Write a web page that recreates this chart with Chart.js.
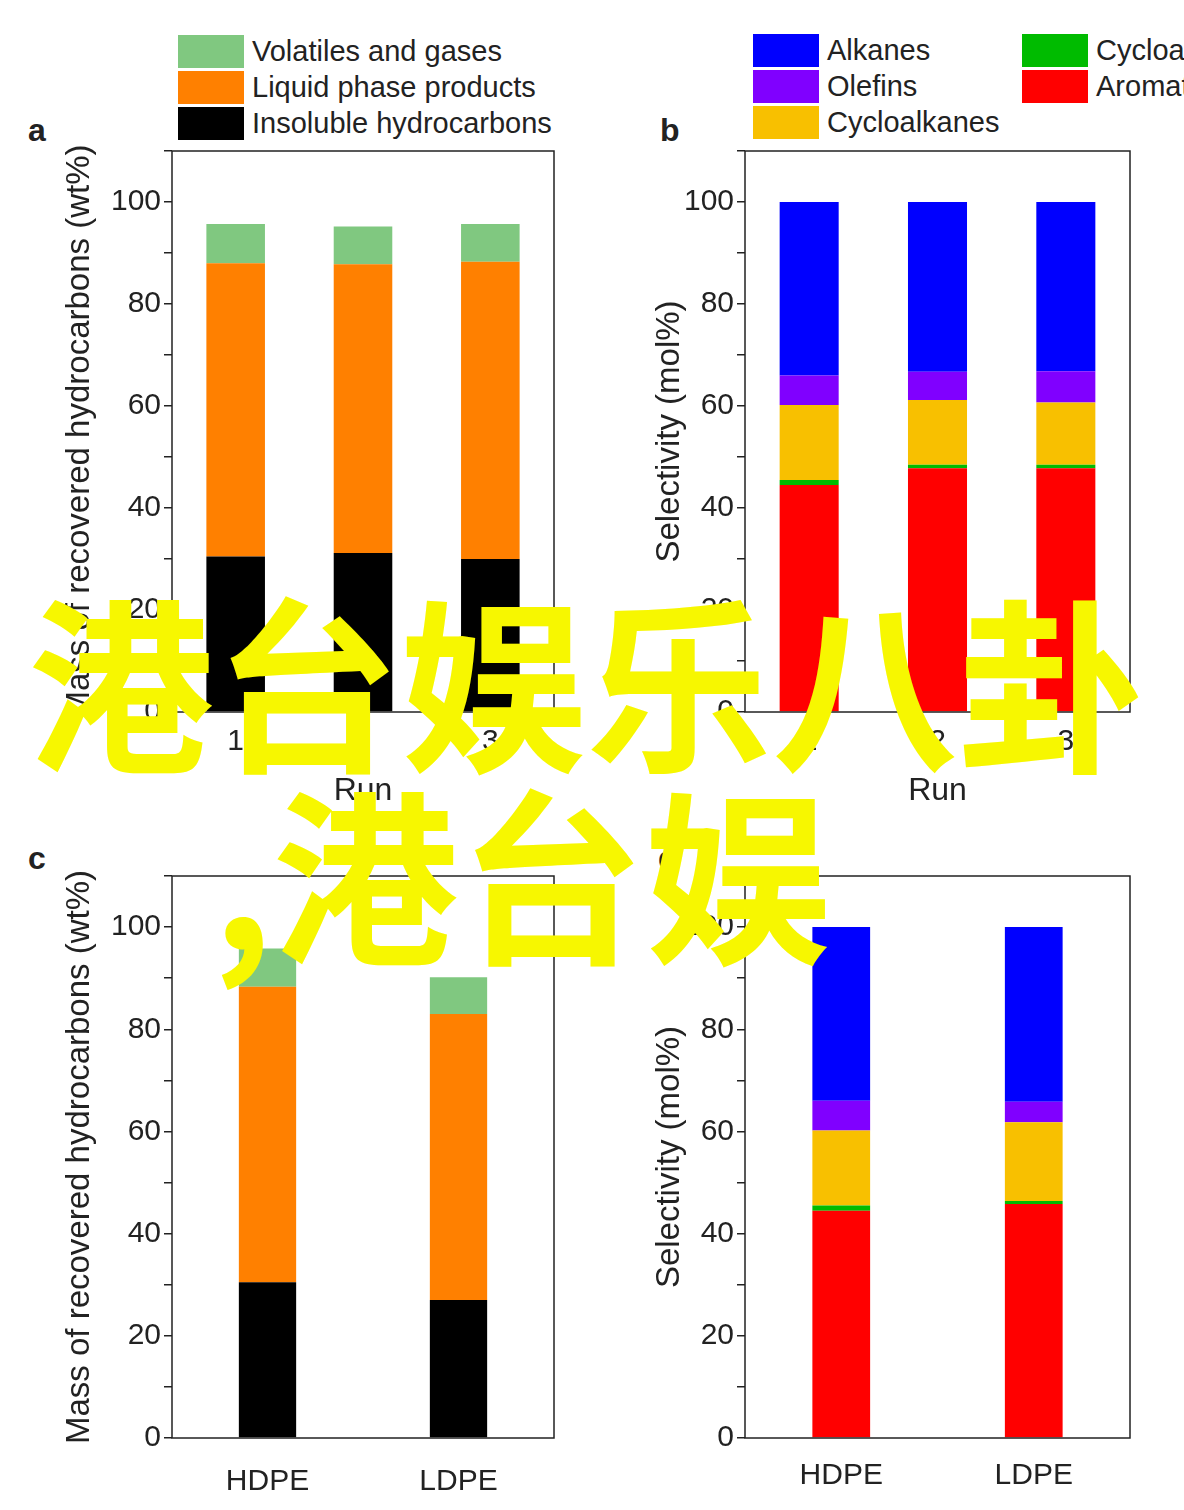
<!DOCTYPE html>
<html>
  <head>
    <meta charset="UTF-8" />
    <title>Plastic runs</title>
    <script src="https://cdn.jsdelivr.net/npm/chart.js"></script>
    <style>
      body { margin: 0; width: 1184px; height: 1510px; position: relative; background: #fff; overflow: hidden;
        font-family: "Liberation Sans", Arial, sans-serif; color: #222; }
      canvas { position: absolute; }
      .legend { position: absolute; font-size: 29px; line-height: 36px; white-space: nowrap; }
      .legend div { height: 36px; display: flex; align-items: center; }
      .legend span.box { display: inline-block; width: 66px; height: 33px; margin-right: 8px; }
      .lab { position: absolute; font-size: 32px; font-weight: bold; }
      .overlay { position: absolute; color: #f7f700; font-family: "Noto Sans CJK SC"; font-weight: bold;
        font-size: 186px; line-height: 1; white-space: nowrap; }
    </style>
  </head>
  <body>
    <div class="legend" style="left:178px;top:33px">
      <div><span class="box" style="background:#80c880"></span>Volatiles and gases</div>
      <div><span class="box" style="background:#ff8000"></span>Liquid phase products</div>
      <div><span class="box" style="background:#000"></span>Insoluble hydrocarbons</div>
    </div>
    <div class="legend" style="left:753px;top:32px">
      <div><span class="box" style="background:#0000ff"></span>Alkanes</div>
      <div><span class="box" style="background:#8000ff"></span>Olefins</div>
      <div><span class="box" style="background:#f8c000"></span>Cycloalkanes</div>
    </div>
    <div class="legend" style="left:1022px;top:32px">
      <div><span class="box" style="background:#00bb00"></span>Cycloalkenes</div>
      <div><span class="box" style="background:#ff0000"></span>Aromatics</div>
    </div>
    <div class="lab" style="left:28px;top:112px">a</div>
    <div class="lab" style="left:660px;top:112px">b</div>
    <div class="lab" style="left:28px;top:840px">c</div>
    <div class="lab" style="left:658px;top:840px">d</div>

    <canvas id="ca"></canvas>
    <canvas id="cb"></canvas>
    <canvas id="cc"></canvas>
    <canvas id="cd"></canvas>

    <div class="overlay" style="left:28px;top:584px">港台娱乐八卦</div>
    <div class="overlay" style="left:212px;top:776px">,港台娱</div>

    <script>
      // Data
      const runs = ["1", "2", "3"];
      const plastics = ["HDPE", "LDPE"];

      const aInsoluble = [30.5, 31.2, 30.0];
      const aLiquid = [57.5, 56.6, 58.3];
      const aVolatiles = [7.7, 7.4, 7.4];

      const bAromatics = [44.5, 47.8, 47.8];
      const bCycloalkenes = [1.0, 0.7, 0.7];
      const bCycloalkanes = [14.7, 12.7, 12.2];
      const bOlefins = [5.8, 5.5, 6.1];
      const bAlkanes = [34.0, 33.3, 33.2];

      const cInsoluble = [30.5, 27.0];
      const cLiquid = [57.8, 56.0];
      const cVolatiles = [7.5, 7.2];

      const dAromatics = [44.5, 45.8];
      const dCycloalkenes = [1.0, 0.6];
      const dCycloalkanes = [14.7, 15.4];
      const dOlefins = [5.8, 4.0];
      const dAlkanes = [34.0, 34.2];

      const yTicks = [0, 20, 40, 60, 80, 100];

      const frame = {
        id: "frame",
        afterDraw(chart) {
          const a = chart.chartArea, ctx = chart.ctx;
          ctx.save();
          ctx.strokeStyle = "#222";
          ctx.lineWidth = 1.5;
          ctx.strokeRect(a.left, a.top, a.right - a.left, a.bottom - a.top);
          ctx.restore();
        },
      };

      function makeChart(id, box, labels, sets, yWidth, yTitle, xTitle, barPct) {
        const cv = document.getElementById(id);
        cv.style.left = box.left + "px";
        cv.style.top = box.top + "px";
        cv.style.width = box.width + "px";
        cv.style.height = box.height + "px";
        cv.width = box.width;
        cv.height = box.height;
        return new Chart(cv, {
          type: "bar",
          data: {
            labels: labels,
            datasets: sets.map((s) => ({
              label: s[0], data: s[1], backgroundColor: s[2],
              barPercentage: barPct, categoryPercentage: 1,
            })),
          },
          options: {
            responsive: false,
            animation: false,
            layout: { padding: { top: box.padTop, right: box.padRight } },
            plugins: { legend: { display: false }, tooltip: { enabled: false } },
            scales: {
              x: {
                stacked: true,
                grid: { display: false },
                border: { display: false },
                ticks: { color: "#222", font: { size: 30 }, padding: box.xPad },
                title: xTitle ? { display: true, text: xTitle, color: "#222", font: { size: 32 }, padding: 0 } : { display: false },
                afterFit: (s) => { s.height = box.xHeight; },
              },
              y: {
                stacked: true,
                min: 0,
                max: 110,
                grid: { drawOnChartArea: false, drawTicks: true, tickLength: 8, color: "#222", lineWidth: 1.5 },
                border: { display: false },
                ticks: {
                  stepSize: 10,
                  color: "#222",
                  font: { size: 30 },
                  autoSkip: false,
                  callback: (v) => (yTicks.includes(v) ? v : ""),
                },
                title: { display: true, text: yTitle, color: "#222", font: { size: 33 }, padding: 0 },
                afterFit: (s) => { s.width = yWidth; },
              },
            },
          },
          plugins: [frame],
        });
      }

      const massTitle = "Mass of recovered hydrocarbons (wt%)";
      const selTitle = "Selectivity (mol%)";

      makeChart("ca", { left: 60, top: 130, width: 520, height: 680, padTop: 9, padRight: 26, xHeight: 98, xPad: 4 },
        runs, [["Insoluble hydrocarbons", aInsoluble, "#000"], ["Liquid phase products", aLiquid, "#ff8000"],
          ["Volatiles and gases", aVolatiles, "#80c880"]], 112, massTitle, "Run", 0.46);

      makeChart("cb", { left: 650, top: 130, width: 500, height: 680, padTop: 9, padRight: 20, xHeight: 98, xPad: 4 },
        runs, [["Aromatics", bAromatics, "#ff0000"], ["Cycloalkenes", bCycloalkenes, "#00bb00"],
          ["Cycloalkanes", bCycloalkanes, "#f8c000"], ["Olefins", bOlefins, "#8000ff"],
          ["Alkanes", bAlkanes, "#0000ff"]], 95, selTitle, "Run", 0.46);

      makeChart("cc", { left: 60, top: 855, width: 520, height: 655, padTop: 9, padRight: 26, xHeight: 72, xPad: 18 },
        plastics, [["Insoluble hydrocarbons", cInsoluble, "#000"], ["Liquid phase products", cLiquid, "#ff8000"],
          ["Volatiles and gases", cVolatiles, "#80c880"]], 112, massTitle, null, 0.3);

      makeChart("cd", { left: 650, top: 855, width: 500, height: 655, padTop: 9, padRight: 20, xHeight: 72, xPad: 12 },
        plastics, [["Aromatics", dAromatics, "#ff0000"], ["Cycloalkenes", dCycloalkenes, "#00bb00"],
          ["Cycloalkanes", dCycloalkanes, "#f8c000"], ["Olefins", dOlefins, "#8000ff"],
          ["Alkanes", dAlkanes, "#0000ff"]], 95, selTitle, null, 0.3);
    </script>
  </body>
</html>
